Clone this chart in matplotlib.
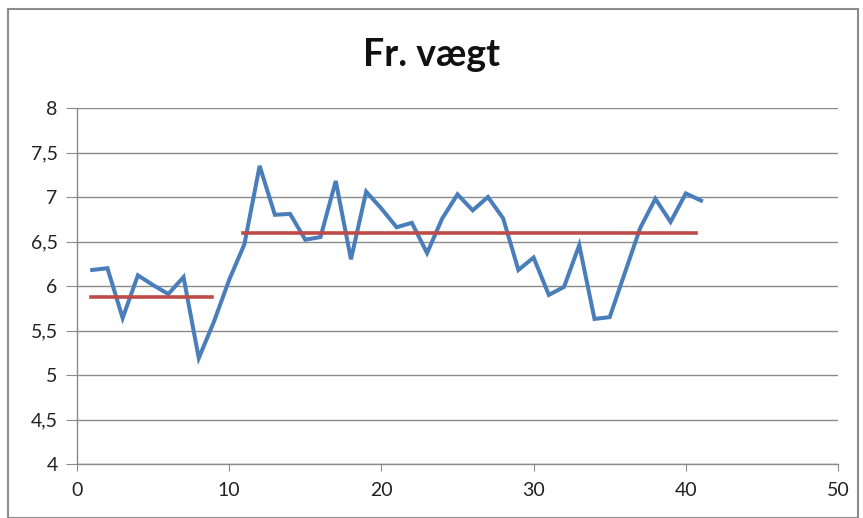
import matplotlib
matplotlib.use("Agg")
import matplotlib.pyplot as plt
from matplotlib.patches import Rectangle

x = list(range(1, 42))
vaegt = [6.18, 6.20, 5.64, 6.12, 6.01, 5.91, 6.10, 5.19, 5.60, 6.07,
         6.47, 7.35, 6.80, 6.81, 6.52, 6.55, 7.18, 6.30, 7.06, 6.87,
         6.66, 6.71, 6.37, 6.76, 7.03, 6.85, 7.00, 6.76, 6.18, 6.32,
         5.90, 5.99, 6.46, 5.63, 5.65, 6.15, 6.65, 6.98, 6.72, 7.04, 6.96]
mean1_x = [0.9, 8.9]
mean1_y = [5.88, 5.88]
mean2_x = [10.9, 40.7]
mean2_y = [6.60, 6.60]
x_ticks = [0, 10, 20, 30, 40, 50]
y_ticks = [4, 4.5, 5, 5.5, 6, 6.5, 7, 7.5, 8]
y_labels = ["4", "4,5", "5", "5,5", "6", "6,5", "7", "7,5", "8"]
title = "Fr. vægt"

plt.rcParams['font.family'] = ['Lato', 'DejaVu Sans']

fig = plt.figure(figsize=(8.63, 5.18), dpi=100)
fig.patches.append(Rectangle((8/863, 0), 850/863, 1 - 9/518, transform=fig.transFigure,
                             fill=False, edgecolor='#8c8c8c', linewidth=1.5))
ax = fig.add_axes([77/863, 1 - 464/518, (838 - 77)/863, (464 - 108)/518])

ax.plot(x, vaegt, color='#4a7ebb', linewidth=2.9, solid_joinstyle='miter', zorder=3)
ax.plot(mean1_x, mean1_y, color='#be4b48', linewidth=2.6, zorder=4)
ax.plot(mean2_x, mean2_y, color='#be4b48', linewidth=2.6, zorder=4)

ax.set_xlim(0, 50)
ax.set_ylim(4, 8)
ax.set_xticks(x_ticks)
ax.set_yticks(y_ticks)
ax.set_yticklabels(y_labels)
ax.grid(axis='y', color='#8a8a8a', linewidth=1.0)
ax.set_axisbelow(True)
for s in ['top', 'right']:
    ax.spines[s].set_visible(False)
for s in ['left', 'bottom']:
    ax.spines[s].set_color('#8a8a8a')
    ax.spines[s].set_linewidth(1.0)
ax.tick_params(axis='y', length=8, color='#8a8a8a', labelsize=14, pad=6, labelcolor='#222222')
ax.tick_params(axis='x', length=5, color='#8a8a8a', labelsize=14, pad=8, labelcolor='#222222')

fig.text(0.5, 1 - 55/518, title, ha='center', va='center', fontsize=27, fontweight='bold', color='#111111')

fig.savefig("out.png", dpi=100)
